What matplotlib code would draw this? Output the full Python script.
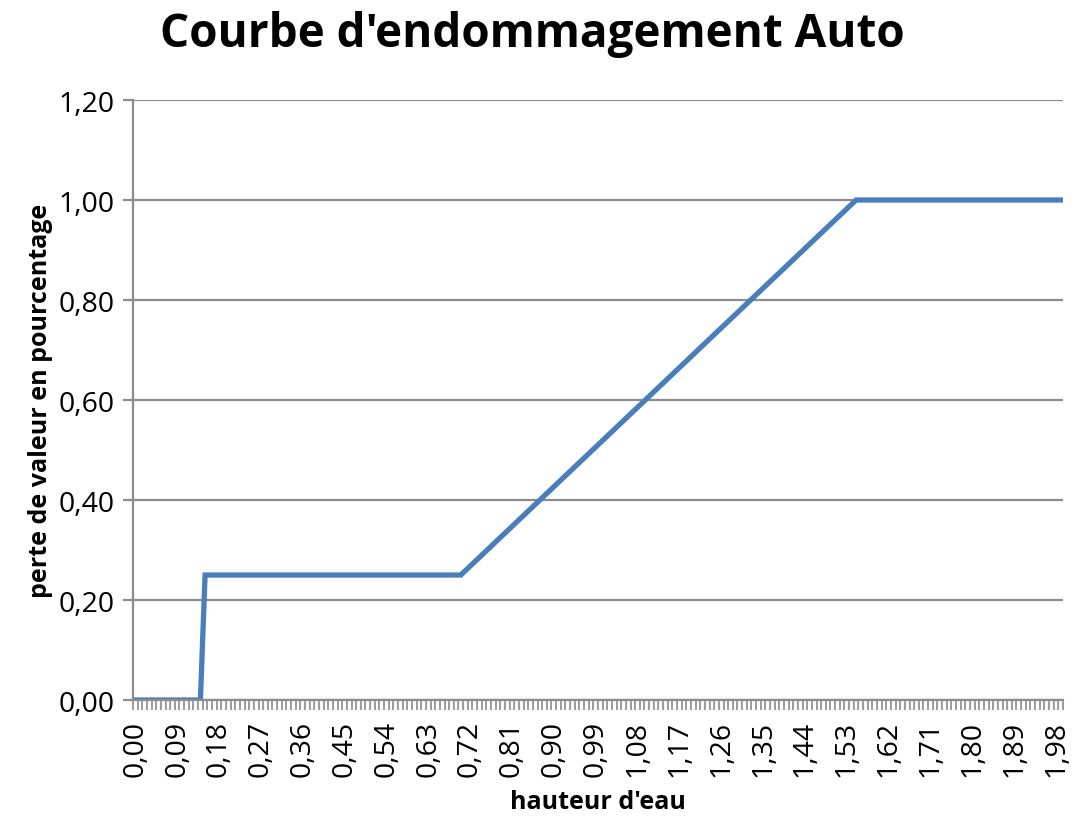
import numpy as np
import matplotlib.pyplot as plt
from matplotlib.ticker import FixedLocator, FuncFormatter

plt.rcParams['font.family'] = ['Open Sans', 'DejaVu Sans']

# Water height categories (m), one every centimetre
hauteurs = [round(i * 0.01, 2) for i in range(200)]

# Breakpoints of the damage curve (height, loss fraction)
h_points = [0.00, 0.14, 0.15, 0.70, 1.55, 1.99]
perte_points = [0.00, 0.00, 0.25, 0.25, 1.00, 1.00]

y_ticks = [0.0, 0.2, 0.4, 0.6, 0.8, 1.0, 1.2]

grid_col = '#8c8c8c'
line_col = '#4a7ebb'

fig = plt.figure(figsize=(10.76, 8.2), dpi=100)
ax = fig.add_axes([0.1236, 0.1451, 0.8643, 0.7317])

# category axis: position = index of the height in the list
pos = [hauteurs.index(h) for h in h_points]
ax.plot(pos, perte_points, color=line_col, linewidth=3.8, solid_joinstyle='miter')

ax.set_xlim(-0.5, len(hauteurs) - 0.5)
ax.set_ylim(0, 1.2)

ax.yaxis.set_major_locator(FixedLocator(y_ticks))
ax.yaxis.set_major_formatter(FuncFormatter(lambda v, p: f'{v:.2f}'.replace('.', ',')))
ax.grid(axis='y', color=grid_col, linewidth=1.6)
ax.set_axisbelow(True)

lab_idx = list(range(0, len(hauteurs), 9))
ax.xaxis.set_major_locator(FixedLocator(lab_idx))
ax.set_xticklabels([f'{hauteurs[i]:.2f}'.replace('.', ',') for i in lab_idx], rotation=90)
ax.xaxis.set_minor_locator(FixedLocator(np.arange(-0.5, len(hauteurs), 1)))
ax.tick_params(axis='x', which='major', length=0, pad=14, labelsize=20.5)
ax.tick_params(axis='x', which='minor', length=7, width=1.2, color=grid_col)
ax.tick_params(axis='y', length=7, width=1.6, color=grid_col, labelsize=20.5, pad=6)

for s in ['top', 'right']:
    ax.spines[s].set_visible(False)
for s in ['left', 'bottom']:
    ax.spines[s].set_color(grid_col)
    ax.spines[s].set_linewidth(1.6)

ax.set_xlabel("hauteur d'eau", fontsize=18, fontweight='bold', labelpad=10)
ax.set_ylabel('perte de valeur en pourcentage', fontsize=18, fontweight='bold', labelpad=4)
fig.suptitle("Courbe d'endommagement Auto", fontsize=33, fontweight='bold', x=0.495, y=0.987, va='top')

fig.savefig('out.png', dpi=100)
